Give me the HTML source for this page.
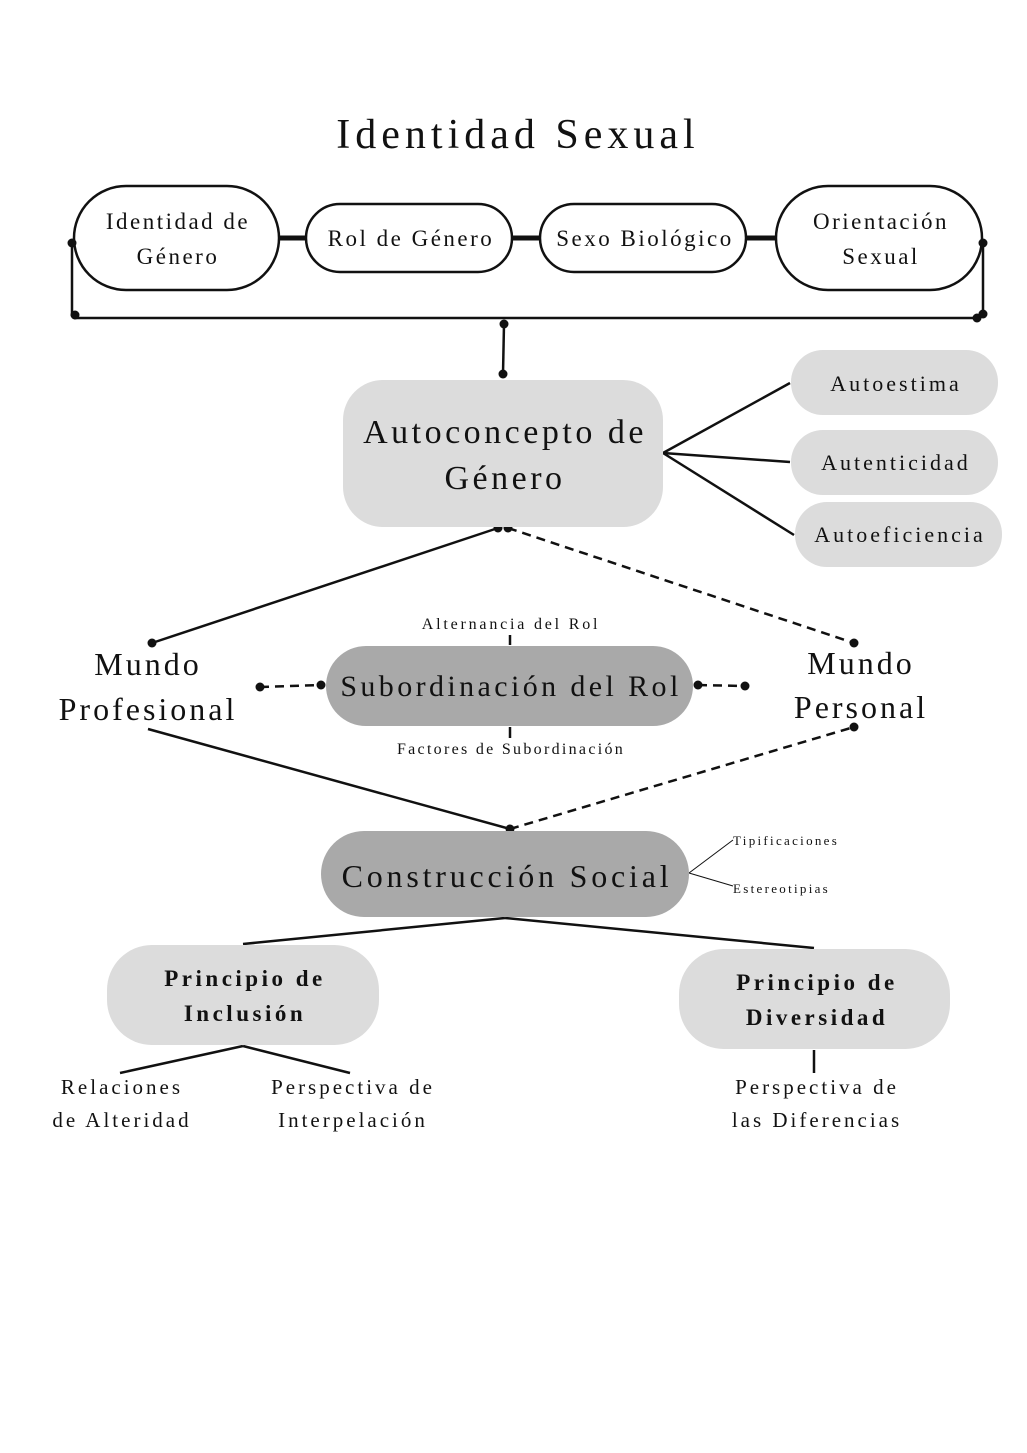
<!DOCTYPE html>
<html><head><meta charset="utf-8"><style>
html,body{margin:0;padding:0;background:#fff}
svg{display:block}
text{font-family:"Liberation Serif","DejaVu Serif",serif;fill:#111;text-anchor:middle}
</style></head><body>
<svg width="1027" height="1453" viewBox="0 0 1027 1453" xmlns="http://www.w3.org/2000/svg">
<rect width="1027" height="1453" fill="#fff"/>
<text x="518" y="148" font-size="42" letter-spacing="5">Identidad Sexual</text>
<g fill="#fff" stroke="#111" stroke-width="2.5">
<rect x="74" y="186" width="205" height="104" rx="52"/>
<rect x="306" y="204" width="206" height="68" rx="34"/>
<rect x="540" y="204" width="206" height="68" rx="34"/>
<rect x="776" y="186" width="206" height="104" rx="52"/>
</g>
<g stroke="#111" stroke-width="5">
<line x1="279" y1="238" x2="306" y2="238"/><line x1="512" y1="238" x2="540" y2="238"/><line x1="746" y1="238" x2="776" y2="238"/>
</g>
<g font-size="23" letter-spacing="2.5">
<text x="178" y="229">Identidad de</text><text x="178" y="264">Género</text>
<text x="411" y="246">Rol de Género</text>
<text x="645" y="246">Sexo Biológico</text>
<text x="881" y="229">Orientación</text><text x="881" y="264">Sexual</text>
</g>
<g stroke="#111" stroke-width="2.5" fill="none">
<path d="M72 243 V316 M74 318 H980 M983 243 V314"/>
<line x1="504" y1="324" x2="503" y2="374"/>
<line x1="663" y1="453" x2="790" y2="383"/><line x1="663" y1="453" x2="790" y2="462"/><line x1="663" y1="453" x2="794" y2="535"/>
<line x1="498" y1="528" x2="152" y2="643"/>
<line x1="508" y1="528" x2="854" y2="643" stroke-dasharray="9,6"/>
<line x1="260" y1="687" x2="321" y2="685" stroke-dasharray="9,6"/>
<line x1="698" y1="685" x2="745" y2="686" stroke-dasharray="9,6"/>
<line x1="510" y1="635" x2="510" y2="645"/><line x1="510" y1="727" x2="510" y2="738"/>
<line x1="148" y1="729" x2="510" y2="829"/>
<line x1="510" y1="829" x2="854" y2="727" stroke-dasharray="9,6"/>
<line x1="505" y1="918" x2="243" y2="944"/><line x1="505" y1="918" x2="814" y2="948"/>
<line x1="243" y1="1046" x2="120" y2="1073"/><line x1="243" y1="1046" x2="350" y2="1073"/>
<line x1="814" y1="1050" x2="814" y2="1073"/>
</g>
<g stroke="#111" stroke-width="1" fill="none">
<line x1="689" y1="873" x2="733" y2="840"/><line x1="689" y1="873" x2="733" y2="886"/>
</g>
<g fill="#111">
<circle cx="72" cy="243" r="4.5"/><circle cx="75" cy="315" r="4.5"/><circle cx="977" cy="318" r="4.5"/><circle cx="983" cy="243" r="4.5"/><circle cx="983" cy="314" r="4.5"/>
<circle cx="504" cy="324" r="4.5"/><circle cx="503" cy="374" r="4.5"/>
<circle cx="498" cy="528" r="4.5"/><circle cx="508" cy="528" r="4.5"/><circle cx="152" cy="643" r="4.5"/><circle cx="854" cy="643" r="4.5"/>
<circle cx="260" cy="687" r="4.5"/><circle cx="321" cy="685" r="4.5"/><circle cx="698" cy="685" r="4.5"/><circle cx="745" cy="686" r="4.5"/>
<circle cx="510" cy="829" r="4.5"/><circle cx="854" cy="727" r="4.5"/>
</g>
<rect x="343" y="380" width="320" height="147" rx="40" fill="#dcdcdc"/>
<text x="505" y="443" font-size="34" letter-spacing="3.5">Autoconcepto de</text>
<text x="505" y="489" font-size="34" letter-spacing="3.5">Género</text>
<g fill="#dcdcdc">
<rect x="791" y="350" width="207" height="65" rx="32"/>
<rect x="791" y="430" width="207" height="65" rx="32"/>
<rect x="795" y="502" width="207" height="65" rx="32"/>
</g>
<g font-size="22" letter-spacing="3">
<text x="896" y="391">Autoestima</text><text x="896" y="470">Autenticidad</text><text x="900" y="542">Autoeficiencia</text>
</g>
<g font-size="32" letter-spacing="3">
<text x="148" y="675">Mundo</text><text x="148" y="720">Profesional</text>
<text x="861" y="674">Mundo</text><text x="861" y="718">Personal</text>
</g>
<rect x="326" y="646" width="367" height="80" rx="40" fill="#a9a9a9"/>
<text x="511" y="696" font-size="30" letter-spacing="3.4">Subordinación del Rol</text>
<text x="511" y="629" font-size="16" letter-spacing="2.8">Alternancia del Rol</text>
<text x="511" y="754" font-size="16" letter-spacing="2.3">Factores de Subordinación</text>
<rect x="321" y="831" width="368" height="86" rx="43" fill="#a9a9a9"/>
<text x="507" y="887" font-size="32" letter-spacing="3.8">Construcción Social</text>
<text x="733" y="845" font-size="13" letter-spacing="2.3" style="text-anchor:start">Tipificaciones</text>
<text x="733" y="893" font-size="13" letter-spacing="2.3" style="text-anchor:start">Estereotipias</text>
<rect x="107" y="945" width="272" height="100" rx="45" fill="#dcdcdc"/>
<rect x="679" y="949" width="271" height="100" rx="45" fill="#dcdcdc"/>
<g font-size="23" font-weight="bold" letter-spacing="3.5">
<text x="245" y="986">Principio de</text><text x="245" y="1021">Inclusión</text>
<text x="817" y="990">Principio de</text><text x="817" y="1025">Diversidad</text>
</g>
<g font-size="21" letter-spacing="3">
<text x="122" y="1094">Relaciones</text><text x="122" y="1127">de Alteridad</text>
<text x="353" y="1094">Perspectiva de</text><text x="353" y="1127">Interpelación</text>
<text x="817" y="1094">Perspectiva de</text><text x="817" y="1127">las Diferencias</text>
</g>
</svg>
</body></html>
